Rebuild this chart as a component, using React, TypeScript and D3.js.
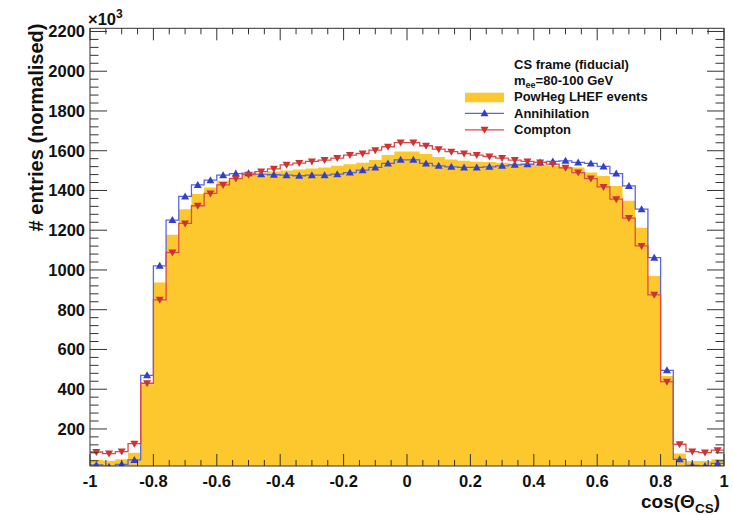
import React from "react";
import * as d3 from "d3";

const binEdgesMin = -1;
const binEdgesMax = 1;
const nBins = 50;

const powhegValues = [
  45, 40, 48, 80, 425, 937, 1177, 1306, 1382, 1415,
  1449, 1465, 1473, 1482, 1495, 1500, 1505, 1510, 1515, 1524,
  1532, 1540, 1553, 1578, 1596, 1596, 1583, 1568, 1556, 1550,
  1545, 1543, 1540, 1536, 1533, 1530, 1524, 1520, 1516, 1490,
  1473, 1423, 1348, 1213, 970, 467, 76, 39, 39, 47,
];

const annihilationValues = [
  19, 10, 22, 44, 470, 1021, 1251, 1370, 1428, 1452,
  1477, 1485, 1487, 1482, 1479, 1477, 1474, 1477, 1477, 1482,
  1490, 1502, 1516, 1536, 1554, 1554, 1536, 1524, 1519, 1516,
  1516, 1519, 1524, 1529, 1532, 1541, 1546, 1549, 1541, 1536,
  1521, 1485, 1423, 1306, 1062, 495, 47, 17, 14, 27,
];

const comptonValues = [
  84, 76, 86, 126, 430, 850, 1088, 1234, 1323, 1385,
  1428, 1460, 1479, 1495, 1509, 1529, 1538, 1546, 1553, 1563,
  1578, 1586, 1603, 1620, 1641, 1641, 1625, 1608, 1595, 1586,
  1578, 1571, 1563, 1553, 1546, 1541, 1533, 1514, 1490, 1460,
  1418, 1356, 1261, 1121, 875, 438, 123, 86, 81, 93,
];

const xTickValues = [-1, -0.8, -0.6, -0.4, -0.2, 0, 0.2, 0.4, 0.6, 0.8, 1];
const xTickLabels = ["-1", "-0.8", "-0.6", "-0.4", "-0.2", "0", "0.2", "0.4", "0.6", "0.8", "1"];
const yTickValues = [200, 400, 600, 800, 1000, 1200, 1400, 1600, 1800, 2000, 2200];
const yTickLabels = ["200", "400", "600", "800", "1000", "1200", "1400", "1600", "1800", "2000", "2200"];

const legendHeader1 = "CS frame (fiducial)";
const legendEntries = ["PowHeg LHEF events", "Annihilation", "Compton"];

const FONT = "'Liberation Sans', Arial, Helvetica, sans-serif";
const YELLOW = "#FCC82E";
const BLUE_LINE = "#5A66E0";
const BLUE_MARK = "#3340CC";
const RED_LINE = "#DD4A4A";
const RED_MARK = "#CC3333";
const AXIS = "#333";

const L = 90, R = 724, T = 28.3, B = 466;

export default function App() {
  const x = d3.scaleLinear().domain([binEdgesMin, binEdgesMax]).range([L, R]);
  const y = d3.scaleLinear().domain([13.6, 2216]).range([B, T]);
  const bw = (binEdgesMax - binEdgesMin) / nBins;
  const edges = d3.range(nBins + 1).map((i) => binEdgesMin + i * bw);
  const centers = d3.range(nBins).map((i) => binEdgesMin + (i + 0.5) * bw);

  const stepPts = (vals: number[]) => {
    const pts: [number, number][] = vals.map((v, i) => [edges[i], v]);
    pts.push([edges[nBins], vals[nBins - 1]]);
    return pts;
  };
  const line = d3
    .line<[number, number]>()
    .x((d) => x(d[0]))
    .y((d) => y(d[1]))
    .curve(d3.curveStepAfter);
  const area = d3
    .area<[number, number]>()
    .x((d) => x(d[0]))
    .y0(B)
    .y1((d) => y(d[1]))
    .curve(d3.curveStepAfter);

  const s = 4;
  const triUp = (cx: number, cy: number) =>
    `M${cx},${cy - s} L${cx + s},${cy + s * 0.75} L${cx - s},${cy + s * 0.75} Z`;
  const triDown = (cx: number, cy: number) =>
    `M${cx},${cy + s} L${cx + s},${cy - s * 0.75} L${cx - s},${cy - s * 0.75} Z`;

  const xMinor = d3.range(-1, 1.0001, 0.05).map((v) => Math.round(v * 100) / 100);
  const yMinor = d3.range(40, 2216, 40);

  return (
    <svg
      width={733}
      height={515}
      style={{ position: "absolute", left: 0, top: 0, background: "#fff" }}
      fontFamily={FONT}
    >
      <defs>
        <clipPath id="frameClip">
          <rect x={L} y={T} width={R - L} height={B - T} />
        </clipPath>
      </defs>
      <g clipPath="url(#frameClip)">
        <path d={area(stepPts(powhegValues)) || ""} fill={YELLOW} stroke="none" />
        <path d={line(stepPts(annihilationValues)) || ""} fill="none" stroke={BLUE_LINE} strokeWidth={1.3} />
        <path d={line(stepPts(comptonValues)) || ""} fill="none" stroke={RED_LINE} strokeWidth={1.3} />
        {annihilationValues.map((v, i) => (
          <path key={"b" + i} d={triUp(x(centers[i]), y(v))} fill={BLUE_MARK} />
        ))}
        {comptonValues.map((v, i) => (
          <path key={"r" + i} d={triDown(x(centers[i]), y(v))} fill={RED_MARK} />
        ))}
      </g>

      {/* frame */}
      <rect x={L} y={T} width={R - L} height={B - T} fill="none" stroke={AXIS} strokeWidth={1} />

      {/* x ticks */}
      {xMinor.map((v, i) => {
        const major = xTickValues.some((t) => Math.abs(t - v) < 1e-6);
        const len = major ? 12 : 6;
        return (
          <g key={"xt" + i} stroke={AXIS} strokeWidth={1}>
            <line x1={x(v)} x2={x(v)} y1={B} y2={B - len} />
            <line x1={x(v)} x2={x(v)} y1={T} y2={T + len} />
          </g>
        );
      })}
      {/* y ticks */}
      {yMinor.map((v, i) => {
        const major = yTickValues.includes(v);
        const len = major ? 17 : 8.5;
        return (
          <g key={"yt" + i} stroke={AXIS} strokeWidth={1}>
            <line x1={L} x2={L + len} y1={y(v)} y2={y(v)} />
            <line x1={R} x2={R - len} y1={y(v)} y2={y(v)} />
          </g>
        );
      })}

      {/* x labels */}
      {xTickValues.map((v, i) => (
        <text
          key={"xl" + i}
          x={x(v)}
          y={487}
          textAnchor="middle"
          fontSize={16.5}
          fontWeight="bold"
          fill="#111"
        >
          {xTickLabels[i]}
        </text>
      ))}
      {/* y labels */}
      {yTickValues.map((v, i) => (
        <text
          key={"yl" + i}
          x={85}
          y={y(v) + 6}
          textAnchor="end"
          fontSize={16.5}
          fontWeight="bold"
          fill="#111"
        >
          {yTickLabels[i]}
        </text>
      ))}

      {/* exponent */}
      <text x={88} y={25} fontSize={16.5} fontWeight="bold" fill="#111">
        ×10
        <tspan fontSize={12} dy={-7}>3</tspan>
      </text>

      {/* axis titles */}
      <text
        transform={`translate(43,${(20 + 235) / 2}) rotate(-90)`}
        textAnchor="middle"
        fontSize={20}
        fontWeight="bold"
        fill="#111"
      >
        # entries (normalised)
      </text>
      <text x={720} y={508} textAnchor="end" fontSize={19} fontWeight="bold" fill="#111">
        cos(Θ<tspan fontSize={13.5} dy={4.5}>CS</tspan>
        <tspan dy={-4.5}>)</tspan>
      </text>

      {/* legend */}
      <g fontSize={13} fontWeight="bold" fill="#111">
        <text x={514} y={69}>{legendHeader1}</text>
        <text x={514} y={85}>
          m<tspan fontSize={9} dy={3}>ee</tspan>
          <tspan dy={-3}>=80-100 GeV</tspan>
        </text>
        <rect x={465} y={92.7} width={39} height={9.6} fill={YELLOW} />
        <text x={514} y={101}>{legendEntries[0]}</text>
        <line x1={465} x2={504} y1={113.3} y2={113.3} stroke={BLUE_LINE} strokeWidth={1.3} />
        <path d={triUp(484.5, 113.3)} fill={BLUE_MARK} />
        <text x={514} y={117.5}>{legendEntries[1]}</text>
        <line x1={465} x2={504} y1={129.8} y2={129.8} stroke={RED_LINE} strokeWidth={1.3} />
        <path d={triDown(484.5, 129.8)} fill={RED_MARK} />
        <text x={514} y={134}>{legendEntries[2]}</text>
      </g>
    </svg>
  );
}
